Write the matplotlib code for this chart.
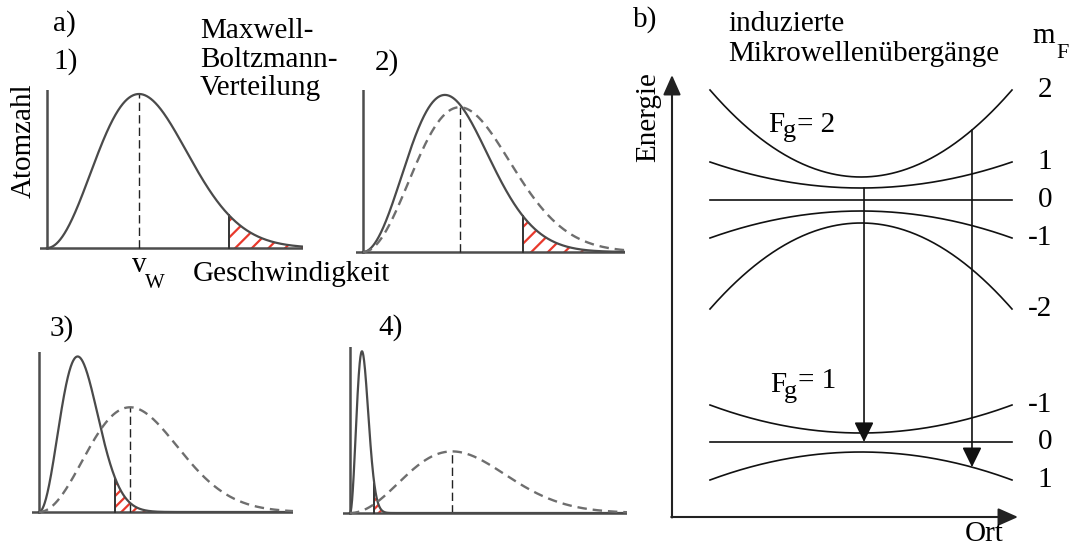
import numpy as np
import matplotlib
matplotlib.use("Agg")
import matplotlib.pyplot as plt
from matplotlib.patches import ArrowStyle

plt.rcParams['font.family'] = ['Liberation Serif', 'DejaVu Serif']
plt.rcParams['hatch.linewidth'] = 1.6

W, H = 1079, 548
fig = plt.figure(figsize=(W / 100, H / 100), dpi=100)

# ---------------- data ----------------
panel_labels = ['1)', '2)', '3)', '4)']
# solid distribution: most probable speed, peak height
solid_vp = [1.00, 0.89, 0.42, 0.13]
solid_h = [1.00, 1.02, 1.01, 1.05]
# dashed (original) distribution
dashed_vp = [None, 1.05, 0.99, 1.11]
dashed_h = [None, 0.94, 0.68, 0.40]
# hatched (fast) tail begins at this speed
cut_v = [1.98, 1.74, 0.83, 0.265]

# energy levels of the ground state in the trap: E(z) = E0 + k z^2
F2_mF = [2, 1, 0, -1, -2]
F2_E0 = [34.0, 32.9, 31.7, 30.6, 29.4]
F2_k = [8.7, 2.6, 0.0, -2.7, -8.6]
F1_mF = [-1, 0, 1]
F1_E0 = [8.4, 7.5, 6.5]
F1_k = [2.8, 0.0, -2.8]
# induced microwave transitions: position, (F, mF) from -> to
trans_z = [0.02, 0.735]
trans_from = [(2, 1), (2, 2)]
trans_to = [(1, 0), (1, 1)]

# ---------------- helpers ----------------
SX, SY = 92.0, 154.0   # px per speed unit / per height unit
AXC = '#4d4d4d'
hatches = ['//', '//', '///', '////']


def px_axes(x0, x1, y0, y1):
    return fig.add_axes([x0 / W, 1 - y1 / H, (x1 - x0) / W, (y1 - y0) / H])


def ftext(x, y, s, **kw):
    kw.setdefault('fontsize', 21)
    return fig.text(x / W, 1 - y / H, s, **kw)


def mb(v, vp, h):
    r = v / vp
    return h * r ** 2 * np.exp(1 - r ** 2)


# ---------------- panel a ----------------
boxes = [(47, 303, 90, 248), (363, 625, 90, 252), (39, 293, 352, 512), (350, 627, 347, 513)]
for i, (xa, xr, yt, yb) in enumerate(boxes):
    ax = px_axes(xa - 7, xr, yt, yb + 4)
    xmax = (xr - xa) / SX
    ymax = (yb - yt) / SY
    ax.set_xlim(-7 / SX, xmax)
    ax.set_ylim(-4 / SY, ymax)
    ax.axis('off')
    v = np.linspace(0, xmax, 1200)
    ys = mb(v, solid_vp[i], solid_h[i])
    # hatched tail
    m = v >= cut_v[i]
    ax.fill_between(v[m], 0, ys[m], facecolor='none', edgecolor='#e8392c',
                    hatch=hatches[i], lw=0, zorder=1)
    ax.plot([cut_v[i], cut_v[i]], [0, mb(cut_v[i], solid_vp[i], solid_h[i])],
            color='#333333', lw=1.4, zorder=3)
    # axes lines
    ax.plot([0, 0], [0, ymax], color=AXC, lw=1.8, zorder=2)
    ax.plot([-7 / SX, xmax], [0, 0], color=AXC, lw=1.8, zorder=2)
    # curves
    ax.plot(v, ys, color='#4a4a4a', lw=1.6, zorder=4)
    if dashed_vp[i] is not None:
        yd = mb(v, dashed_vp[i], dashed_h[i])
        ax.plot(v, yd, color='#6e6e6e', lw=1.7, dashes=(4, 2.5), zorder=4)
        vm, hm = dashed_vp[i], dashed_h[i]
    else:
        vm, hm = solid_vp[i], solid_h[i]
    ax.plot([vm, vm], [0, hm], color='#222222', lw=1.0, dashes=(6, 3), zorder=3)

# panel a texts
ftext(53, 24, 'a)', va='center')
ftext(53, 62, panel_labels[0], va='center')
ftext(375, 63, panel_labels[1], va='center')
ftext(50, 329, panel_labels[2], va='center')
ftext(378, 328, panel_labels[3], va='center')
ftext(200, 38, 'Maxwell-', va='baseline')
ftext(200, 67, 'Boltzmann-', va='baseline')
ftext(200, 95, 'Verteilung', va='baseline')
ftext(24, 141, 'Atomzahl', rotation=90, ha='center', va='center')
ftext(132, 272, 'v', va='baseline')
ftext(145, 288, 'W', va='baseline', fontsize=15)
ftext(193, 281, 'Geschwindigkeit', va='baseline')

# ---------------- panel b ----------------
ZX, ZC, EY, EB = 151.0, 861.0, 10.0, 517.0


def zc(px):
    return (px - ZC) / ZX


def ec(py):
    return (EB - py) / EY


bx0, bx1, by0, by1 = 660, 1079, 60, 530
axb = px_axes(bx0, bx1, by0, by1)
axb.set_xlim(zc(bx0), zc(bx1))
axb.set_ylim(ec(by1), ec(by0))
axb.axis('off')

z0 = zc(672)
# axes with arrows
head = ArrowStyle('-|>', head_length=0.45, head_width=0.2)
axb.annotate('', xy=(z0, ec(75)), xytext=(z0, -0.05),
             arrowprops=dict(arrowstyle=head, mutation_scale=27, lw=1.5,
                             color='#222222', shrinkA=0, shrinkB=0))
axb.annotate('', xy=(zc(1018), 0), xytext=(z0 - 0.005, 0),
             arrowprops=dict(arrowstyle=head, mutation_scale=27, lw=1.5,
                             color='#222222', shrinkA=0, shrinkB=0))

z = np.linspace(-1, 1, 300)
levels = {}
for mF, E0, k in zip(F2_mF, F2_E0, F2_k):
    levels[(2, mF)] = (E0, k)
for mF, E0, k in zip(F1_mF, F1_E0, F1_k):
    levels[(1, mF)] = (E0, k)

for (F, mF), (E0, k) in levels.items():
    axb.plot(z, E0 + k * z ** 2, color='#111111', lw=1.2)
    yl = E0 + k
    axb.text(zc(1052), yl, str(mF), ha='right', va='center', fontsize=21)

for zt, fr, to in zip(trans_z, trans_from, trans_to):
    E0a, ka = levels[fr]
    E0b, kb = levels[to]
    axb.annotate('', xy=(zt, E0b + kb * zt ** 2), xytext=(zt, E0a + ka * zt ** 2),
                 arrowprops=dict(arrowstyle=ArrowStyle('-|>', head_length=0.45, head_width=0.22),
                                 mutation_scale=27, lw=1.2, color='#111111',
                                 shrinkA=0, shrinkB=0))

ftext(633, 20, 'b)', va='center')
ftext(728, 31, 'induzierte', va='baseline')
ftext(728, 61, 'Mikrowellenübergänge', va='baseline')
ftext(1032, 43, 'm', va='baseline', fontsize=21)
ftext(1056, 58, 'F', va='baseline', fontsize=16)
ftext(648, 117, 'Energie', rotation=90, ha='center', va='center')
ftext(984, 534, 'Ort', ha='center', va='center')
ftext(768, 132, 'F', va='baseline')
ftext(783, 137, 'g', va='baseline', fontsize=19)
ftext(797, 132, '= 2', va='baseline')
ftext(770, 392, 'F', va='baseline')
ftext(784, 398, 'g', va='baseline', fontsize=19)
ftext(798, 388, '= 1', va='baseline')

fig.savefig('out.png', dpi=100, facecolor='white')
